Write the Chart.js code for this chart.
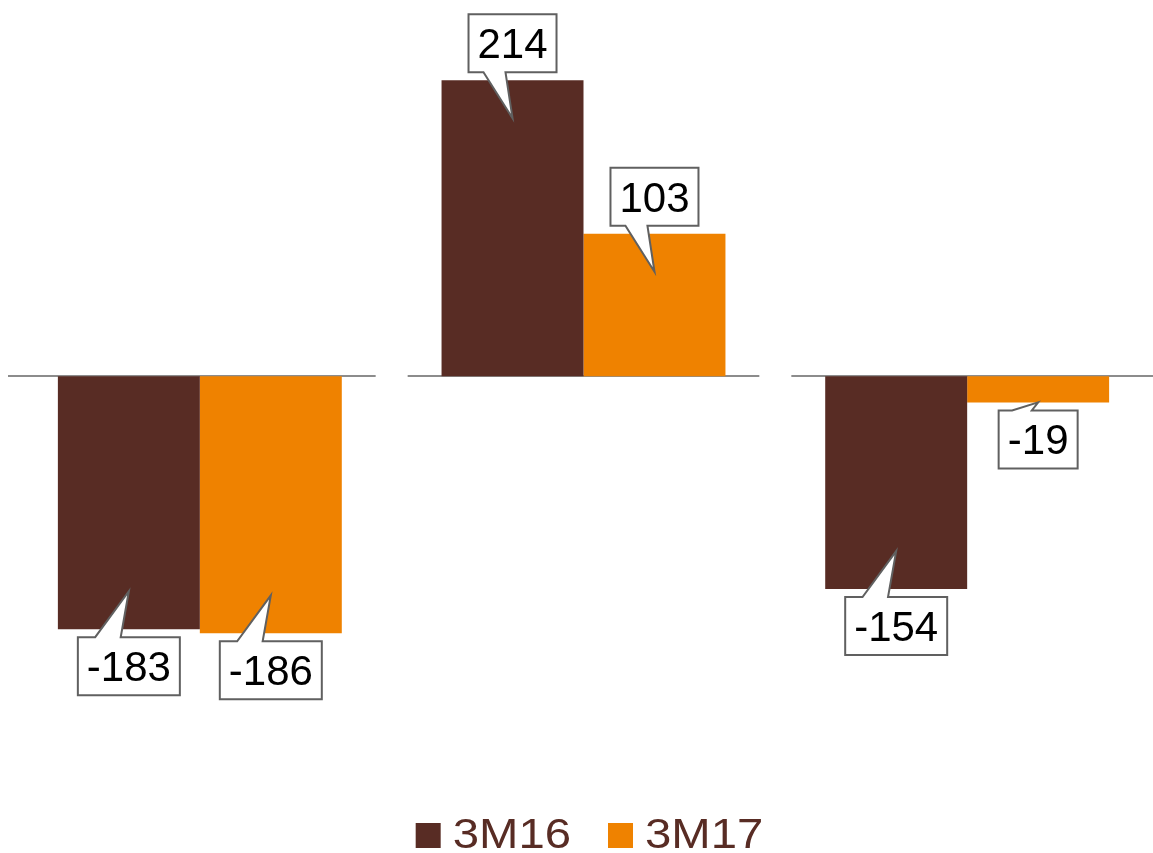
<head>
    <meta charset="UTF-8">
    <title>3M16 vs 3M17</title>
    <script src="https://cdn.jsdelivr.net/npm/chart.js@4"></script>
    <style>
        html, body { margin: 0; padding: 0; background: #fff; overflow: hidden; }
        #wrap { width: 1160px; height: 853px; }
    </style>
</head>
<body>
    <div id="wrap"><canvas id="barChart"></canvas></div>

    <script>
        // groups shown side by side, no axis labels drawn
        var categories = ['A', 'B', 'C'];
        var seriesNames = ['3M16', '3M17'];
        var values3M16 = [-183, 214, -154];
        var values3M17 = [-186, 103, -19];

        var brown = '#582c24';
        var orange = '#ef8200';
        var fontFamily = '"Liberation Sans", Arial, sans-serif';

        // zero line under each group, with a gap between groups
        var baselinePlugin = {
            id: 'baselines',
            beforeDatasetsDraw: function (chart) {
                var ctx = chart.ctx;
                var xs = chart.scales.x, ys = chart.scales.y;
                var half = (xs.right - xs.left) / categories.length / 2;
                var y0 = Math.round(ys.getPixelForValue(0));
                var last = categories.length - 1;
                ctx.save();
                ctx.strokeStyle = '#8c8c8c';
                ctx.lineWidth = 2;
                categories.forEach(function (c, i) {
                    var cx = xs.getPixelForValue(i);
                    var x1 = i === 0 ? xs.left : cx - half + 16;
                    var x2 = i === last ? xs.right : cx + half - 16;
                    ctx.beginPath();
                    ctx.moveTo(x1, y0);
                    ctx.lineTo(x2, y0);
                    ctx.stroke();
                });
                ctx.restore();
            }
        };

        // speech-bubble value labels
        var calloutPlugin = {
            id: 'callouts',
            afterDatasetsDraw: function (chart) {
                var ctx = chart.ctx;
                ctx.save();
                ctx.font = '42px ' + fontFamily;
                chart.data.datasets.forEach(function (ds, di) {
                    chart.getDatasetMeta(di).data.forEach(function (bar, i) {
                        var v = ds.data[i];
                        var txt = String(v);
                        var w = Math.round(ctx.measureText(txt).width + 18);
                        var h = 58;
                        var cx = bar.x;
                        var end = bar.y;
                        var len = Math.abs(bar.base - bar.y);
                        var depth = Math.min(38, Math.max(0, len - 30));
                        var left = cx - w / 2, right = cx + w / 2;
                        var b1 = cx - 0.33 * w, b2 = cx - 0.08 * w;
                        var top, tipY;
                        ctx.beginPath();
                        if (v >= 0) {
                            top = end - 8 - h;
                            tipY = end + depth;
                            var bot = top + h;
                            ctx.moveTo(left, top);
                            ctx.lineTo(right, top);
                            ctx.lineTo(right, bot);
                            ctx.lineTo(b2, bot);
                            ctx.lineTo(cx, tipY);
                            ctx.lineTo(b1, bot);
                            ctx.lineTo(left, bot);
                        } else {
                            top = end + 8;
                            tipY = end - depth;
                            ctx.moveTo(left, top);
                            ctx.lineTo(b1, top);
                            ctx.lineTo(cx, tipY);
                            ctx.lineTo(b2, top);
                            ctx.lineTo(right, top);
                            ctx.lineTo(right, top + h);
                            ctx.lineTo(left, top + h);
                        }
                        ctx.closePath();
                        ctx.fillStyle = '#fff';
                        ctx.fill();
                        ctx.strokeStyle = '#606060';
                        ctx.lineWidth = 2;
                        ctx.stroke();
                        ctx.fillStyle = '#000';
                        ctx.textAlign = 'center';
                        ctx.textBaseline = 'alphabetic';
                        ctx.fillText(txt, cx, top + h / 2 + 15);
                    });
                });
                ctx.restore();
            }
        };

        // legend row under the plot: square swatch + series name (slightly wide text)
        var legendPlugin = {
            id: 'swatchLegend',
            afterDraw: function (chart) {
                var ctx = chart.ctx;
                var area = chart.chartArea;
                var box = 25, gap = 12, itemGap = 37, stretch = 1.1;
                ctx.save();
                ctx.font = '43px ' + fontFamily;
                var items = chart.data.datasets.map(function (ds) {
                    return { label: ds.label, color: ds.backgroundColor, w: ctx.measureText(ds.label).width * stretch };
                });
                var total = items.reduce(function (s, it) { return s + box + gap + it.w; }, 0) + itemGap * (items.length - 1);
                var x = (area.left + area.right) / 2 + 6 - total / 2;
                var baseY = area.bottom + 57;
                items.forEach(function (it) {
                    ctx.fillStyle = it.color;
                    ctx.fillRect(x, baseY - box, box, box);
                    x += box + gap;
                    ctx.save();
                    ctx.translate(x, baseY);
                    ctx.scale(stretch, 1);
                    ctx.fillStyle = brown;
                    ctx.textAlign = 'left';
                    ctx.textBaseline = 'alphabetic';
                    ctx.fillText(it.label, 0, 0);
                    ctx.restore();
                    x += it.w + itemGap;
                });
                ctx.restore();
            }
        };

        new Chart(document.getElementById('barChart'), {
            type: 'bar',
            data: {
                labels: categories,
                datasets: [{
                    label: seriesNames[0],
                    data: values3M16,
                    backgroundColor: brown
                }, {
                    label: seriesNames[1],
                    data: values3M17,
                    backgroundColor: orange
                }]
            },
            options: {
                responsive: true,
                maintainAspectRatio: false,
                animation: false,
                layout: { padding: { left: 8, right: 1, top: 0, bottom: 62 } },
                categoryPercentage: 0.74,
                barPercentage: 1.0,
                scales: {
                    x: { display: false },
                    y: { display: false, min: -300, max: 272 }
                },
                plugins: {
                    tooltip: { enabled: false },
                    legend: { display: false }
                }
            },
            plugins: [baselinePlugin, calloutPlugin, legendPlugin]
        });
    </script>
</body>
